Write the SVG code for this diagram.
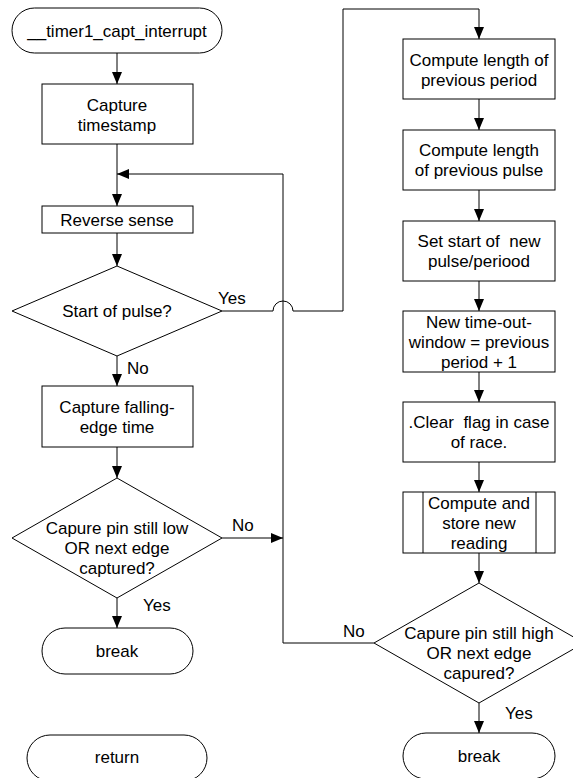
<svg xmlns="http://www.w3.org/2000/svg" width="573" height="778" viewBox="0 0 573 778">
<style>
.s{fill:#fff;stroke:#000;stroke-width:1}
.c{fill:none;stroke:#000;stroke-width:1}
text{font-family:"Liberation Sans",Arial,sans-serif;font-size:17px;fill:#000}
.m{text-anchor:middle}
</style>
<defs>
<marker id="a" markerUnits="userSpaceOnUse" markerWidth="12" markerHeight="10" refX="12" refY="5" orient="auto"><path d="M0,0 L12,5 L0,10 z" fill="#000"/></marker>
</defs>
<rect width="573" height="778" fill="#fff"/>
<g id="connectors">
<path class="c" d="M117,53 V84" marker-end="url(#a)"/>
<path class="c" d="M117,144 V206" marker-end="url(#a)"/>
<path class="c" d="M374,643 H283 V174 H117" marker-end="url(#a)"/>
<path class="c" d="M117,233 V266" marker-end="url(#a)"/>
<path class="c" d="M222,311 H273 A10,10 0 0 1 293,311 H343 V9 H479 V39" marker-end="url(#a)"/>
<path class="c" d="M117,356 V386" marker-end="url(#a)"/>
<path class="c" d="M117,447 V478" marker-end="url(#a)"/>
<path class="c" d="M222,538 H283" marker-end="url(#a)"/>
<path class="c" d="M117,598 V628" marker-end="url(#a)"/>
<path class="c" d="M479,99 V130" marker-end="url(#a)"/>
<path class="c" d="M479,190 V221" marker-end="url(#a)"/>
<path class="c" d="M479,281 V311" marker-end="url(#a)"/>
<path class="c" d="M479,372 V402" marker-end="url(#a)"/>
<path class="c" d="M479,462 V492" marker-end="url(#a)"/>
<path class="c" d="M479,553 V583" marker-end="url(#a)"/>
<path class="c" d="M479,703 V733" marker-end="url(#a)"/>
<text x="218" y="304">Yes</text>
<text x="127" y="374">No</text>
<text x="232" y="531">No</text>
<text x="143" y="611">Yes</text>
<text x="343" y="637">No</text>
<text x="505" y="719">Yes</text>
</g>
<g id="start">
<rect class="s" x="12" y="8" width="210" height="45" rx="22.5"/>
<text class="m" x="117" y="37">__timer1_capt_interrupt</text>
</g>
<g id="capture_timestamp">
<rect class="s" x="42" y="84" width="151" height="60"/>
<text class="m" x="117" y="111">Capture</text>
<text class="m" x="117" y="131">timestamp</text>
</g>
<g id="reverse_sense">
<rect class="s" x="42" y="206" width="151" height="27"/>
<text class="m" x="117" y="225.5">Reverse sense</text>
</g>
<g id="start_of_pulse">
<polygon class="s" points="117,266 222,311 117,356 12,311"/>
<text class="m" x="117" y="317">Start of pulse?</text>
</g>
<g id="capture_falling">
<rect class="s" x="42" y="386" width="151" height="61"/>
<text class="m" x="117" y="413">Capture falling-</text>
<text class="m" x="117" y="433">edge time</text>
</g>
<g id="low_check">
<polygon class="s" points="117,478 222,538 117,598 12,538"/>
<text class="m" x="117" y="534">Capure pin still low</text>
<text class="m" x="117" y="554">OR next edge</text>
<text class="m" x="117" y="574">captured?</text>
</g>
<g id="break1">
<rect class="s" x="42" y="628" width="151" height="46" rx="23"/>
<text class="m" x="117" y="657">break</text>
</g>
<g id="return">
<rect class="s" x="27" y="735" width="180" height="46" rx="23"/>
<text class="m" x="117" y="763">return</text>
</g>
<g id="prev_period">
<rect class="s" x="403" y="39" width="152" height="60"/>
<text class="m" x="479" y="66">Compute length of</text>
<text class="m" x="479" y="86">previous period</text>
</g>
<g id="prev_pulse">
<rect class="s" x="403" y="130" width="152" height="60"/>
<text class="m" x="479" y="156">Compute length</text>
<text class="m" x="479" y="176">of previous pulse</text>
</g>
<g id="set_start">
<rect class="s" x="403" y="221" width="152" height="60"/>
<text class="m" x="479" y="247" xml:space="preserve">Set start of  new</text>
<text class="m" x="479" y="267">pulse/periood</text>
</g>
<g id="timeout">
<rect class="s" x="403" y="311" width="152" height="61"/>
<text class="m" x="479" y="327.5">New time-out-</text>
<text class="m" x="479" y="347.5">window = previous</text>
<text class="m" x="479" y="367.5">period + 1</text>
</g>
<g id="clear_flag">
<rect class="s" x="403" y="402" width="152" height="60"/>
<text class="m" x="479" y="428" xml:space="preserve">.Clear  flag in case</text>
<text class="m" x="479" y="448">of race.</text>
</g>
<g id="compute_store">
<rect class="s" x="403" y="492" width="152" height="61"/>
<path class="c" d="M423,492 V553 M536,492 V553"/>
<text class="m" x="479" y="508.5">Compute and</text>
<text class="m" x="479" y="528.5">store new</text>
<text class="m" x="479" y="548.5">reading</text>
</g>
<g id="high_check">
<polygon class="s" points="479,583 584,643 479,703 374,643"/>
<text class="m" x="479" y="639">Capure pin still high</text>
<text class="m" x="479" y="659">OR next edge</text>
<text class="m" x="479" y="679">capured?</text>
</g>
<g id="break2">
<rect class="s" x="403" y="733" width="152" height="46" rx="23"/>
<text class="m" x="479" y="762">break</text>
</g>
</svg>
